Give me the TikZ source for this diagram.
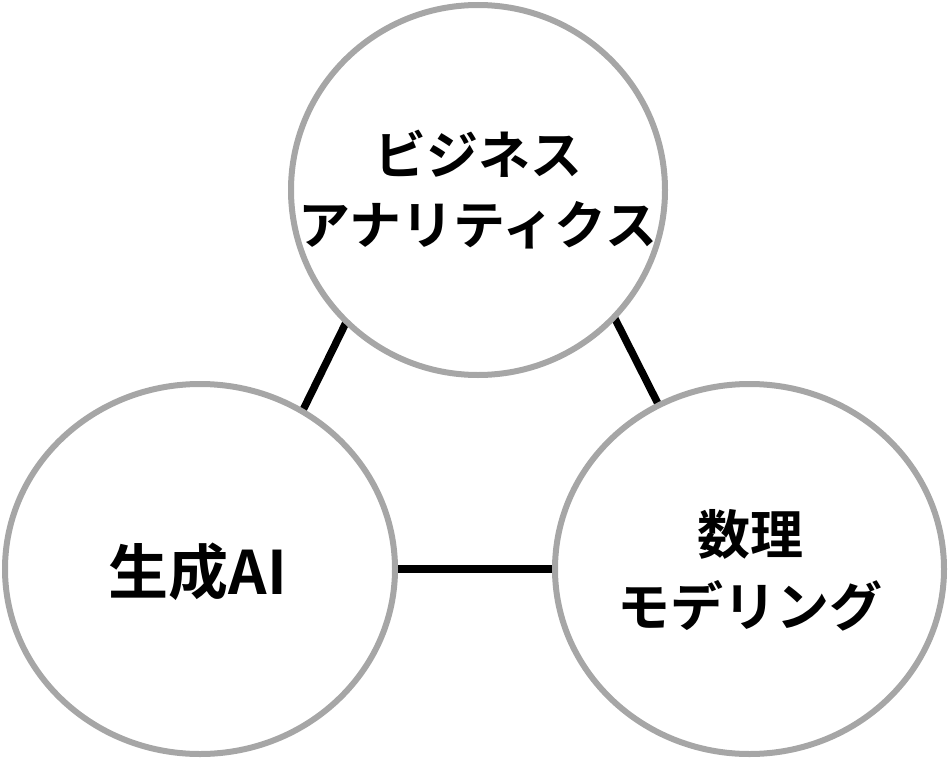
\documentclass[tikz,border=0pt]{standalone}
\usepackage{fontspec}
\newfontfamily\jpfont{Noto Sans CJK JP}[BoldFont={* Bold}]
\usetikzlibrary{shapes.geometric,backgrounds}
\definecolor{ringgray}{HTML}{A6A6A6}
\tikzset{
  ring/.style={ellipse, draw=ringgray, line width=6pt, inner sep=0pt, outer sep=0pt},
  link/.style={draw=black, line width=7.5pt},
  lbl/.style={align=center, inner sep=0pt, font=\jpfont\bfseries\fontsize{52}{70}\selectfont},
  lblright/.style={align=center, inner sep=0pt, font=\jpfont\bfseries\fontsize{53}{72}\selectfont},
  lblbig/.style={align=center, inner sep=0pt, font=\jpfont\bfseries\fontsize{60}{70}\selectfont}
}
\begin{document}
\begin{tikzpicture}[x=1pt,y=-1pt]
\useasboundingbox (0,0) rectangle (950,760);
\node[ring, minimum width=374pt, minimum height=370pt] (top) at (478,190) {};
\node[ring, minimum width=390pt, minimum height=370pt] (left) at (200,569) {};
\node[ring, minimum width=389pt, minimum height=370pt] (right) at (749.5,569) {};
\begin{scope}[on background layer]
\draw[link] (top.225) -- (left.57);
\draw[link] (top.-43) -- (right.119);
\draw[link] (left.east) -- (right.west);
\end{scope}
\node[lbl] (toptext) at (478,190) {ビジネス\\アナリティクス};
\node[lblbig] (lefttext) at (198,572) {生成AI};
\node[lblright] (righttext) at (750,570) {数理\\モデリング};
\end{tikzpicture}
\end{document}
